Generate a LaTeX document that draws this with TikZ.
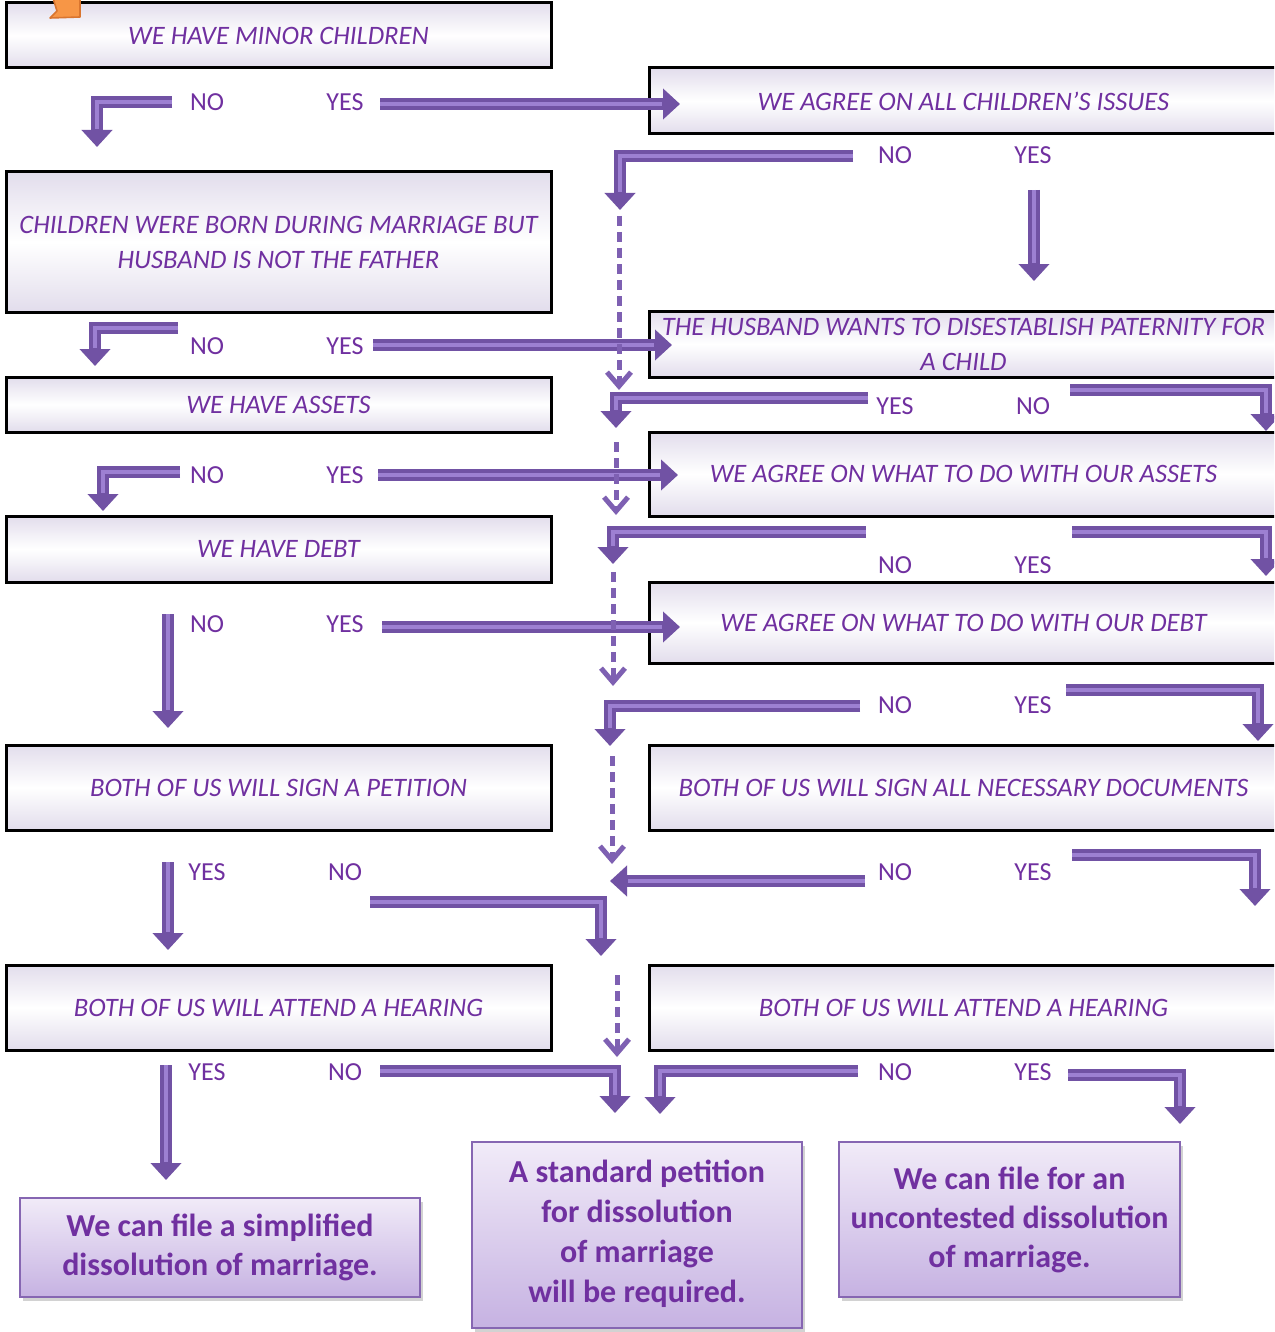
\documentclass[tikz,border=0pt]{standalone}
\usepackage{fontspec}
\setmainfont{Carlito}
\usetikzlibrary{arrows.meta,shadows}
\definecolor{txt}{HTML}{7030A0}
\definecolor{arr}{HTML}{7152A4}
\definecolor{arrl}{HTML}{9D80D2}
\definecolor{darr}{HTML}{7E60B2}
\definecolor{lav}{HTML}{E2DDEC}
\definecolor{fboxtop}{HTML}{F1EBF8}
\definecolor{fboxbot}{HTML}{C6B2E2}
\definecolor{fboxdraw}{HTML}{8666B2}
\definecolor{org}{HTML}{F79646}
\definecolor{orgd}{HTML}{D9752F}
\tikzset{
  qbox/.style={draw=black, line width=1.5pt, top color=lav, bottom color=lav, middle color=white,
    text=txt, font=\fontsize{13.3}{17.5}\selectfont\itshape, align=center, inner sep=0pt},
  fbox/.style={draw=fboxdraw, line width=1.1pt, top color=fboxtop, bottom color=fboxbot,
    text=txt, font=\fontsize{16}{19.5}\selectfont\bfseries, align=center, inner sep=0pt,
    drop shadow={shadow xshift=1.5pt, shadow yshift=-2pt, opacity=0.35}},
  lab/.style={text=txt, font=\fontsize{13}{15}\selectfont, inner sep=0pt},
  barrow/.style={draw=arr, line width=6pt, line join=miter,
    -{Triangle[width=15pt,length=8.5pt]},
    postaction={draw=arrl, line width=2pt, shorten >=9pt, -}},
  darrow/.style={draw=darr, line width=2.5pt, dash pattern=on 5pt off 3pt,
    -{Straight Barb[length=7pt,width=12pt,line width=2.5pt]}}
}
\newcommand\qb[6]{\node[qbox, minimum width={(#4-#2)*0.5pt}, minimum height={(#5-#3)*0.5pt}] (#1) at ({(#2+#4)/2},{(#3+#5)/2}) {#6};}
\newcommand\fb[6]{\node[fbox, minimum width={(#4-#2)*0.5pt}, minimum height={(#5-#3)*0.5pt}] (#1) at ({(#2+#4)/2},{(#3+#5)/2}) {#6};}
\begin{document}
\begin{tikzpicture}[x=0.5pt,y=-0.5pt]
\useasboundingbox (0,0) rectangle (1274,1332);
\clip (0,0) rectangle (1274,1332);
\fill[white] (0,0) rectangle (1274,1332);

% boxes
\qb{b1}{6}{3}{551}{68}{WE HAVE MINOR CHILDREN}
\qb{b2}{649}{68}{1278}{134}{WE AGREE ON ALL CHILDREN'S ISSUES}
\qb{b3}{6}{172}{551}{312}{CHILDREN WERE BORN DURING MARRIAGE BUT\\HUSBAND IS NOT THE FATHER}
\qb{b4}{649}{311}{1278}{377}{THE HUSBAND WANTS TO DISESTABLISH PATERNITY FOR\\A CHILD}
\qb{b5}{6}{377}{551}{432}{WE HAVE ASSETS}
\qb{b6}{649}{432}{1278}{516}{WE AGREE ON WHAT TO DO WITH OUR ASSETS}
\qb{b7}{6}{516}{551}{582}{WE HAVE DEBT}
\qb{b8}{649}{582}{1278}{663}{WE AGREE ON WHAT TO DO WITH OUR DEBT}
\qb{b9}{6}{745}{551}{830}{BOTH OF US WILL SIGN A PETITION}
\qb{b10}{649}{745}{1278}{830}{BOTH OF US WILL SIGN ALL NECESSARY DOCUMENTS}
\qb{b11}{6}{965}{551}{1050}{BOTH OF US WILL ATTEND A HEARING}
\qb{b12}{649}{965}{1278}{1050}{BOTH OF US WILL ATTEND A HEARING}

\fb{r1}{20}{1198}{420}{1297}{We can file a simplified\\dissolution of marriage.}
\fb{r2}{472}{1142}{802}{1328}{\raisebox{1.5pt}{\begin{tabular}{@{}c@{}}A standard petition\\[0.5pt]for dissolution\\[0.5pt]of marriage\\[0.5pt]will be required.\end{tabular}}}
\fb{r3}{839}{1142}{1180}{1297}{We can file for an\\uncontested dissolution\\of marriage.}

% orange fragment
\filldraw[fill=org, draw=orgd, line width=0.8pt, line join=round] (51,-2) -- (80,-2) -- (80,17) -- (50,18) -- (57,11) -- (53,-2) -- cycle;

% labels
\node[lab] (l1n) at (207,102) {NO};   \node[lab] (l1y) at (345,102) {YES};
\node[lab] (l2n) at (895,155) {NO};   \node[lab] (l2y) at (1033,155) {YES};
\node[lab] (l3n) at (207,346) {NO};   \node[lab] (l3y) at (345,346) {YES};
\node[lab] (l4y) at (895,406) {YES};  \node[lab] (l4n) at (1033,406) {NO};
\node[lab] (l5n) at (207,475) {NO};   \node[lab] (l5y) at (345,475) {YES};
\node[lab] (l6n) at (895,565) {NO};   \node[lab] (l6y) at (1033,565) {YES};
\node[lab] (l7n) at (207,624) {NO};   \node[lab] (l7y) at (345,624) {YES};
\node[lab] (l8n) at (895,705) {NO};   \node[lab] (l8y) at (1033,705) {YES};
\node[lab] (l9y) at (207,872) {YES};  \node[lab] (l9n) at (345,872) {NO};
\node[lab] (l10n) at (895,872) {NO};  \node[lab] (l10y) at (1033,872) {YES};
\node[lab] (l11y) at (207,1072) {YES}; \node[lab] (l11n) at (345,1072) {NO};
\node[lab] (l12n) at (895,1072) {NO}; \node[lab] (l12y) at (1033,1072) {YES};

% arrow coordinates
\coordinate (a1s) at (172,102);  \coordinate (a1t) at (97,147);
\coordinate (a2s) at (380,104);  \coordinate (a2t) at (680,104);
\coordinate (a3s) at (853,156);  \coordinate (a3t) at (620,210);
\coordinate (a4s) at (1034,190); \coordinate (a4t) at (1034,281);
\coordinate (a5s) at (178,328);  \coordinate (a5t) at (95,366);
\coordinate (a6s) at (373,345);  \coordinate (a6t) at (672,345);
\coordinate (a7s) at (868,398);  \coordinate (a7t) at (616,428);
\coordinate (a8s) at (1070,390); \coordinate (a8t) at (1266,431);
\coordinate (a9s) at (180,472);  \coordinate (a9t) at (103,511);
\coordinate (a10s) at (378,475); \coordinate (a10t) at (678,475);
\coordinate (a11s) at (866,532); \coordinate (a11t) at (613,564);
\coordinate (a12s) at (1072,532); \coordinate (a12t) at (1266,576);
\coordinate (a13s) at (168,614); \coordinate (a13t) at (168,728);
\coordinate (a14s) at (382,627); \coordinate (a14t) at (680,627);
\coordinate (a15s) at (860,706); \coordinate (a15t) at (610,746);
\coordinate (a16s) at (1066,690); \coordinate (a16t) at (1258,741);
\coordinate (a17s) at (168,862); \coordinate (a17t) at (168,950);
\coordinate (a18s) at (370,902); \coordinate (a18t) at (601,956);
\coordinate (a19s) at (865,881); \coordinate (a19t) at (610,881);
\coordinate (a20s) at (1072,855); \coordinate (a20t) at (1255,906);
\coordinate (a21s) at (166,1065); \coordinate (a21t) at (166,1180);
\coordinate (a22s) at (380,1071); \coordinate (a22t) at (615,1113);
\coordinate (a23s) at (858,1071); \coordinate (a23t) at (660,1114);
\coordinate (a24s) at (1068,1075); \coordinate (a24t) at (1180,1124);

% solid arrows
\draw[barrow] (a1s) -| (a1t);
\draw[barrow] (a2s) -- (a2t);
\draw[barrow] (a3s) -| (a3t);
\draw[barrow] (a4s) -- (a4t);
\draw[barrow] (a5s) -| (a5t);
\draw[barrow] (a6s) -- (a6t);
\draw[barrow] (a7s) -| (a7t);
\draw[barrow] (a8s) -| (a8t);
\draw[barrow] (a9s) -| (a9t);
\draw[barrow] (a10s) -- (a10t);
\draw[barrow] (a11s) -| (a11t);
\draw[barrow] (a12s) -| (a12t);
\draw[barrow] (a13s) -- (a13t);
\draw[barrow] (a14s) -- (a14t);
\draw[barrow] (a15s) -| (a15t);
\draw[barrow] (a16s) -| (a16t);
\draw[barrow] (a17s) -- (a17t);
\draw[barrow] (a18s) -| (a18t);
\draw[barrow] (a19s) -- (a19t);
\draw[barrow] (a20s) -| (a20t);
\draw[barrow] (a21s) -- (a21t);
\draw[barrow] (a22s) -| (a22t);
\draw[barrow] (a23s) -| (a23t);
\draw[barrow] (a24s) -| (a24t);

% dashed arrows
\coordinate (d1s) at (619,216);  \coordinate (d1t) at (619,390);
\coordinate (d2s) at (616,442);  \coordinate (d2t) at (616,515);
\coordinate (d3s) at (613,572);  \coordinate (d3t) at (613,686);
\coordinate (d4s) at (612,756);  \coordinate (d4t) at (612,864);
\coordinate (d5s) at (617,975);  \coordinate (d5t) at (617,1057);
\draw[darrow] (d1s) -- (d1t);
\draw[darrow] (d2s) -- (d2t);
\draw[darrow] (d3s) -- (d3t);
\draw[darrow] (d4s) -- (d4t);
\draw[darrow] (d5s) -- (d5t);
\end{tikzpicture}
\end{document}
